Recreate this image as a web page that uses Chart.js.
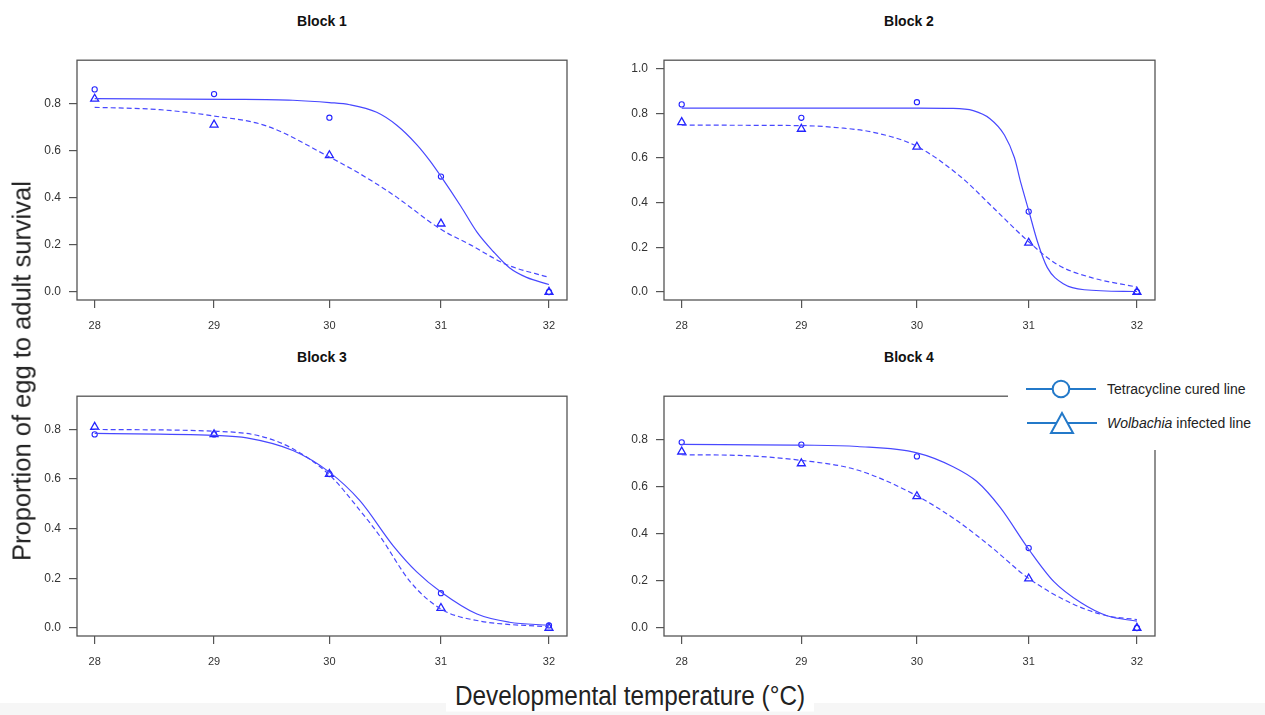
<!DOCTYPE html>
<html lang="en">
<head>
  <meta charset="UTF-8" />
  <title>Egg to adult survival by developmental temperature</title>
  <script src="https://cdn.jsdelivr.net/npm/chart.js"></script>
  <style>
    body { margin: 0; background: #fff; font-family: "Liberation Sans", Arial, sans-serif; }
    #page { position: relative; width: 1265px; height: 715px; overflow: hidden; }
    canvas { position: absolute; }
    .title { position: absolute; font-weight: bold; font-size: 14px; color: #111; transform: translate(-50%, -50%); white-space: nowrap; }
    #ytitle { position: absolute; left: 22px; top: 371px; font-size: 25.5px; color: #222; white-space: nowrap;
              transform: translate(-50%, -50%) rotate(-90deg); }
    #xtitle { position: absolute; left: 630px; top: 696px; font-size: 27px; color: #222; white-space: nowrap;
              transform: translate(-50%, -50%) scaleX(0.9); z-index: 3; background: #fff; padding: 0 10px; }
    #strip { position: absolute; left: 0; top: 703px; width: 1265px; height: 12px; background: #f6f6f6; }
    #legend { position: absolute; left: 1008px; top: 376px; width: 257px; height: 74px; background: #fff; z-index: 2; }
    #legend svg { position: absolute; left: 0; top: 0; }
    .ltext { position: absolute; left: 99px; font-size: 14px; color: #222; transform: translateY(-50%); white-space: nowrap; }
  </style>
</head>
<body>
<div id="page">
  <div id="strip"></div>
  <canvas id="c1"></canvas>
  <canvas id="c2"></canvas>
  <canvas id="c3"></canvas>
  <canvas id="c4"></canvas>
  <div class="title" style="left:322px; top:21px;">Block 1</div>
  <div class="title" style="left:909px; top:21px;">Block 2</div>
  <div class="title" style="left:322px; top:357px;">Block 3</div>
  <div class="title" style="left:909px; top:357px;">Block 4</div>
  <div id="ytitle">Proportion of egg to adult survival</div>
  <div id="xtitle">Developmental temperature (°C)</div>
  <div id="legend">
    <svg width="257" height="74">
      <g stroke="#2379c9" stroke-width="2" fill="none">
        <line x1="18" y1="13" x2="88" y2="13" />
        <circle cx="53" cy="13" r="8.3" fill="#fff" />
        <line x1="19" y1="47" x2="89" y2="47" />
        <polygon points="54,37 43,57 65,57" fill="#fff" />
      </g>
    </svg>
    <div class="ltext" style="top:13px;">Tetracycline cured line</div>
    <div class="ltext" style="top:47px;"><i>Wolbachia</i> infected line</div>
  </div>
</div>

<script>
  // Temperatures and tick labels
  const temps = [28, 29, 30, 31, 32];
  const xTicks = [28, 29, 30, 31, 32];
  const yTicksShort = [0, 0.2, 0.4, 0.6, 0.8];
  const yTicksLong = [0, 0.2, 0.4, 0.6, 0.8, 1.0];

  // Observed proportions (circles = tetracycline cured, triangles = Wolbachia infected)
  const block1Cured = [0.86, 0.84, 0.74, 0.49, 0.00];
  const block1Infected = [0.82, 0.71, 0.58, 0.29, 0.00];
  const block2Cured = [0.84, 0.78, 0.85, 0.36, 0.00];
  const block2Infected = [0.76, 0.73, 0.65, 0.22, 0.00];
  const block3Cured = [0.78, 0.78, 0.62, 0.14, 0.01];
  const block3Infected = [0.81, 0.78, 0.62, 0.08, 0.00];
  const block4Cured = [0.79, 0.78, 0.73, 0.34, 0.00];
  const block4Infected = [0.75, 0.70, 0.56, 0.21, 0.00];

  // Fitted curves
  const block1CuredFitX = [28, 29.11, 29.68, 30, 30.18, 30.42, 30.60, 30.78, 30.90, 31, 31.18, 31.33, 31.48, 31.63, 31.79, 32];
  const block1CuredFitY = [0.821, 0.818, 0.814, 0.804, 0.795, 0.763, 0.708, 0.626, 0.557, 0.491, 0.365, 0.254, 0.172, 0.103, 0.062, 0.032];
  const block1InfFitX = [28, 28.54, 29, 29.45, 30, 30.27, 30.57, 31, 31.27, 31.60, 32];
  const block1InfFitY = [0.784, 0.774, 0.747, 0.705, 0.573, 0.502, 0.412, 0.266, 0.200, 0.117, 0.062];

  const block2CuredFitX = [28, 29, 30, 30.32, 30.50, 30.65, 30.78, 30.87, 30.93, 31, 31.08, 31.17, 31.32, 31.51, 32];
  const block2CuredFitY = [0.823, 0.823, 0.823, 0.822, 0.812, 0.776, 0.703, 0.602, 0.486, 0.365, 0.225, 0.109, 0.036, 0.010, 0.002];
  const block2InfFitX = [28, 29, 29.33, 29.62, 30, 30.39, 30.68, 31, 31.26, 31.57, 32];
  const block2InfFitY = [0.747, 0.745, 0.735, 0.715, 0.652, 0.515, 0.377, 0.225, 0.123, 0.065, 0.022];

  const block3CuredFitX = [28, 29, 29.28, 29.68, 30, 30.27, 30.57, 30.78, 31, 31.33, 31.63, 32];
  const block3CuredFitY = [0.784, 0.776, 0.766, 0.715, 0.628, 0.513, 0.330, 0.226, 0.145, 0.056, 0.023, 0.011];
  const block3InfFitX = [28, 29, 29.39, 29.68, 30, 30.27, 30.45, 30.72, 31, 31.33, 32];
  const block3InfFitY = [0.800, 0.793, 0.774, 0.722, 0.617, 0.474, 0.369, 0.187, 0.076, 0.030, 0.004];

  const block4CuredFitX = [28, 29, 29.48, 30, 30.32, 30.53, 30.74, 31, 31.23, 31.48, 31.72, 32];
  const block4CuredFitY = [0.781, 0.778, 0.772, 0.745, 0.686, 0.624, 0.514, 0.335, 0.197, 0.107, 0.052, 0.029];
  const block4InfFitX = [28, 28.48, 29, 29.48, 30, 30.35, 30.65, 31, 31.41, 31.72, 32];
  const block4InfFitY = [0.737, 0.734, 0.713, 0.672, 0.562, 0.458, 0.349, 0.211, 0.101, 0.052, 0.036];

  const FONT = '"Liberation Sans", Arial, sans-serif';
  const LINE = '#4848ff';
  const MARK = '#2424ff';
  const FRAME = '#555';

  function pts(xs, ys) {
    return xs.map((x, i) => ({ x: x, y: ys[i] }));
  }

  // box round the plot area, like R's box()
  const boxPlugin = {
    id: 'box',
    afterDatasetsDraw(chart) {
      const a = chart.chartArea;
      const ctx = chart.ctx;
      ctx.save();
      ctx.strokeStyle = FRAME;
      ctx.lineWidth = 1.3;
      ctx.strokeRect(a.left, a.top, a.right - a.left, a.bottom - a.top);
      ctx.restore();
    }
  };

  function makePanel(id, box, yTicks, yMin, yMax, cured, infected, cfx, cfy, ifx, ify) {
    const L = 60, T = 8, R = 8, B = 34;
    const canvas = document.getElementById(id);
    canvas.width = box.right - box.left + L + R;
    canvas.height = box.bottom - box.top + T + B;
    canvas.style.left = (box.left - L) + 'px';
    canvas.style.top = (box.top - T) + 'px';

    return new Chart(canvas, {
      type: 'scatter',
      data: {
        datasets: [
          { data: pts(cfx, cfy), showLine: true, pointRadius: 0, borderColor: LINE, borderWidth: 1.2,
            cubicInterpolationMode: 'monotone', fill: false },
          { data: pts(ifx, ify), showLine: true, pointRadius: 0, borderColor: LINE, borderWidth: 1.2,
            borderDash: [5, 3], cubicInterpolationMode: 'monotone', fill: false },
          { data: pts(temps, cured), pointStyle: 'circle', pointRadius: 2.6, borderColor: MARK,
            backgroundColor: 'rgba(0,0,0,0)', pointBorderWidth: 1.1 },
          { data: pts(temps, infected), pointStyle: 'triangle', pointRadius: 4.6, borderColor: MARK,
            backgroundColor: 'rgba(0,0,0,0)', pointBorderWidth: 1.3 }
        ]
      },
      options: {
        responsive: false,
        animation: false,
        devicePixelRatio: 1,
        layout: { padding: { left: 0, top: T, right: R, bottom: 0 } },
        plugins: { legend: { display: false }, tooltip: { enabled: false } },
        scales: {
          x: {
            type: 'logarithmic',
            min: 27.855,
            max: 32.17,
            afterBuildTicks: s => { s.ticks = xTicks.map(v => ({ value: v })); },
            afterFit: s => { s.height = B; },
            border: { display: false },
            grid: { drawOnChartArea: false, color: FRAME, tickLength: 8, lineWidth: 1.2 },
            ticks: { autoSkip: false, maxRotation: 0, padding: 11, color: '#333',
                     font: { family: FONT, size: 11 }, callback: v => String(v) }
          },
          y: {
            min: yMin,
            max: yMax,
            afterBuildTicks: s => { s.ticks = yTicks.map(v => ({ value: v })); },
            afterFit: s => { s.width = L; },
            border: { display: false },
            grid: { drawOnChartArea: false, color: FRAME, tickLength: 8, lineWidth: 1.2 },
            ticks: { autoSkip: false, padding: 8, color: '#333',
                     font: { family: FONT, size: 12 }, callback: v => Number(v).toFixed(1) }
          }
        }
      },
      plugins: [boxPlugin]
    });
  }

  makePanel('c1', { left: 77, top: 53, right: 567, bottom: 300 }, yTicksShort, -0.034, 0.984,
    block1Cured, block1Infected, block1CuredFitX, block1CuredFitY, block1InfFitX, block1InfFitY);
  makePanel('c2', { left: 664, top: 53, right: 1155, bottom: 300 }, yTicksLong, -0.036, 1.038,
    block2Cured, block2Infected, block2CuredFitX, block2CuredFitY, block2InfFitX, block2InfFitY);
  makePanel('c3', { left: 77, top: 389, right: 567, bottom: 636 }, yTicksShort, -0.0325, 0.934,
    block3Cured, block3Infected, block3CuredFitX, block3CuredFitY, block3InfFitX, block3InfFitY);
  makePanel('c4', { left: 664, top: 389, right: 1155, bottom: 636 }, yTicksShort, -0.034, 0.986,
    block4Cured, block4Infected, block4CuredFitX, block4CuredFitY, block4InfFitX, block4InfFitY);
</script>
</body>
</html>
